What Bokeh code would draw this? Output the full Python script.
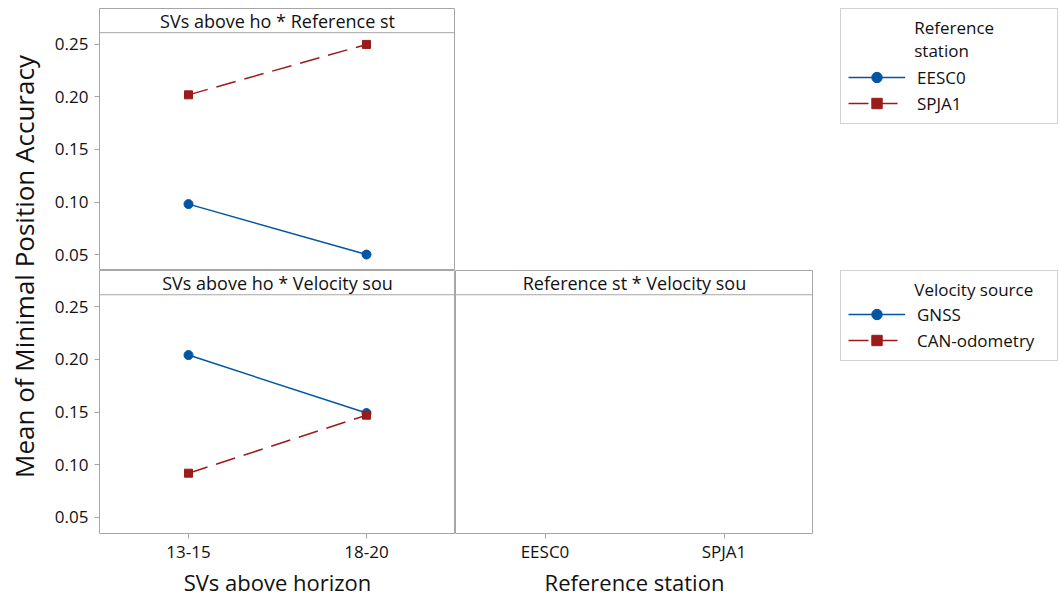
from bokeh.plotting import figure
from bokeh.layouts import column, row
from bokeh.models import (Range1d, FactorRange, Span, Label, Legend, LegendItem,
                          NumeralTickFormatter)
from bokeh.embed import file_html
from bokeh.resources import INLINE

# ---------------- data ----------------
sv_levels = ["13-15", "18-20"]
station_levels = ["EESC0", "SPJA1"]
velocity_levels = ["GNSS", "CAN-odometry"]

# SVs above horizon * Reference station
eesc0_means = [0.098, 0.050]
spja1_means = [0.202, 0.250]
# SVs above horizon * Velocity source
gnss_means = [0.204, 0.149]
can_means = [0.092, 0.147]

y_ticks = [0.05, 0.10, 0.15, 0.20, 0.25]

panel_titles = ["SVs above ho * Reference st",
                "SVs above ho * Velocity sou",
                "Reference st * Velocity sou"]
x_titles = ["SVs above horizon", "Reference station"]
y_title = "Mean of Minimal Position Accuracy"
legend_titles = ["Reference\nstation", "Velocity source"]

# ---------------- style ----------------
FONT = "Open Sans"
BLUE = "#0055A5"
RED = "#9B1B1B"
GREY = "#a6a6a6"
TXT = "#111111"
Y_START, Y_END, STRIP = 0.0348, 0.2842, 0.2612
TOTAL_H = 596
TOP_H = 270            # top row (8 px gap + 262 px panel)
X_BORDER = 33          # tick band under the bottom panels
BOT_H = 263 + X_BORDER
TITLE_H = TOTAL_H - TOP_H - BOT_H


def bare(w, h, x_range=None, top=0):
    p = figure(width=w, height=h,
               x_range=x_range if x_range is not None else Range1d(0, 1),
               y_range=Range1d(0, 1),
               x_axis_type=None, y_axis_type=None, toolbar_location=None,
               output_backend="svg", min_border=0, min_border_top=top,
               outline_line_color=None)
    p.xgrid.visible = False
    p.ygrid.visible = False
    return p


def make_panel(factors, title, w, h, left, top, bottom, show_x, show_y, x_standoff=5):
    p = figure(x_range=FactorRange(*factors, range_padding=0),
               y_range=Range1d(Y_START, Y_END),
               width=w, height=h,
               min_border_left=left, min_border_right=0,
               min_border_top=top, min_border_bottom=bottom,
               toolbar_location=None, output_backend="svg",
               x_axis_location="below" if show_x else None,
               y_axis_location="left" if show_y else None)
    p.outline_line_color = GREY
    p.outline_line_width = 1
    p.xgrid.visible = False
    p.ygrid.visible = False
    for ax in p.axis:
        ax.axis_line_color = None
        ax.major_tick_line_color = GREY
        ax.major_tick_out = 5
        ax.major_tick_in = 0
        ax.minor_tick_line_color = None
        ax.major_label_text_font = FONT
        ax.major_label_text_font_size = "17px"
        ax.major_label_text_color = TXT
    if show_y:
        p.yaxis.ticker = y_ticks
        p.yaxis.formatter = NumeralTickFormatter(format="0.00")
        p.yaxis.major_label_standoff = 6
    if show_x:
        p.xaxis.major_label_standoff = x_standoff
    p.add_layout(Span(location=STRIP, dimension="width", line_color=GREY, line_width=1))
    p.add_layout(Label(x=len(factors) / 2, y=(STRIP + Y_END) / 2, text=title,
                       text_align="center", text_baseline="middle",
                       text_font=FONT, text_font_size="18px", text_color=TXT))
    return p


def series(p, xs, ys, color, dashed, marker, size, visible=True):
    ln = p.line(xs, ys, line_color=color, line_width=1.5,
                line_dash="20 9" if dashed else "solid", visible=visible)
    mk = p.scatter(xs, ys, marker=marker, size=size, fill_color=color,
                   line_color=color, visible=visible)
    return [ln, mk]


def legend_panel(w, h, top, labels, title, ys1, ys2, standoff):
    # legend keys: the same series, hidden, so only their legend keys show
    p = bare(w, h, FactorRange(*sv_levels, range_padding=0), top)
    k1 = series(p, sv_levels, ys1, BLUE, False, "circle", 9, visible=False)
    k2 = series(p, sv_levels, ys2, RED, True, "square", 8, visible=False)
    indent = "\u00a0" * 15
    lg = Legend(items=[LegendItem(label=labels[0], renderers=k1),
                       LegendItem(label=labels[1], renderers=k2)],
                location="top_right",
                title="\n".join(indent + t for t in title.split("\n")))
    lg.border_line_color = GREY
    lg.border_line_width = 1
    lg.background_fill_color = "white"
    lg.background_fill_alpha = 1
    lg.label_text_font = FONT
    lg.label_text_font_size = "17px"
    lg.label_text_color = TXT
    lg.title_text_font = FONT
    lg.title_text_font_size = "17px"
    lg.title_text_font_style = "normal"
    lg.title_text_color = TXT
    lg.glyph_width = 57
    lg.glyph_height = 26
    lg.label_height = 26
    lg.label_standoff = 12
    lg.label_width = 133
    lg.spacing = 0
    lg.padding = 7
    lg.margin = 0
    lg.title_standoff = standoff
    p.add_layout(lg)
    return p


def title_panel(w, h, text, xc):
    p = bare(w, h)
    p.add_layout(Label(x=xc, y=0.5, text=text, text_align="center",
                       text_baseline="middle", text_font=FONT,
                       text_font_size="22px", text_color=TXT))
    return p


# ---------- top-left: SVs x Reference station ----------
pA = make_panel(sv_levels, panel_titles[0], 409, TOP_H, 53, 8, 0, False, True)
series(pA, sv_levels, eesc0_means, BLUE, False, "circle", 9)
series(pA, sv_levels, spja1_means, RED, True, "square", 8)
pLA = legend_panel(1058 - 455, TOP_H, 8, station_levels, legend_titles[0],
                   eesc0_means, spja1_means, 2)

# ---------- bottom-left: SVs x Velocity source ----------
pC = make_panel(sv_levels, panel_titles[1], 409, BOT_H, 53, 0, X_BORDER, True, True,
                x_standoff=7)
series(pC, sv_levels, gnss_means, BLUE, False, "circle", 9)
series(pC, sv_levels, can_means, RED, True, "square", 8)

# ---------- bottom-right: Reference station x Velocity source (empty) ----------
pD = make_panel(station_levels, panel_titles[2], 358, BOT_H, 0, 0, X_BORDER, True, False,
                x_standoff=1)
pLB = legend_panel(1058 - 813, BOT_H, 0, velocity_levels, legend_titles[1],
                   gnss_means, can_means, 0)

# ---------- axis titles (centred under each panel's frame) ----------
tC = title_panel(409, TITLE_H, x_titles[0], (53 + 356 / 2) / 409)
tD = title_panel(358, TITLE_H, x_titles[1], 0.5)

pY = bare(46, TOTAL_H)
pY.add_layout(Label(x=23 / 46, y=(TOTAL_H - 266) / TOTAL_H, text=y_title, angle=90,
                    angle_units="deg", text_align="center", text_baseline="middle",
                    text_font=FONT, text_font_size="26px", text_color=TXT))

layout = row(pY, column(row(pA, pLA), row(pC, pD, pLB), row(tC, tD)))
open("out.html", "w").write(file_html(layout, INLINE))
